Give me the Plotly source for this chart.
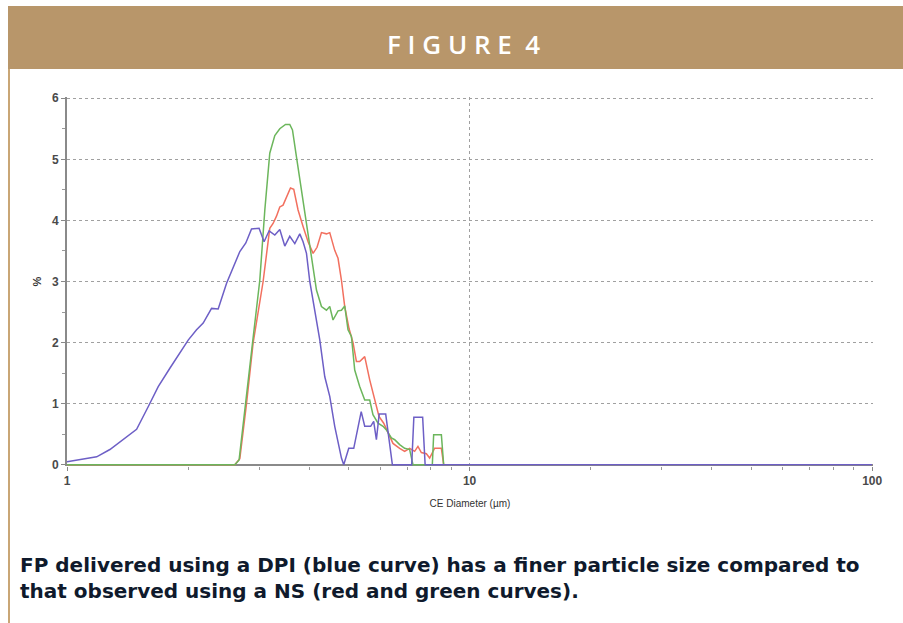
import plotly.graph_objects as go

# ---- data (CE diameter in µm, percentage) ----
blue_d = [1.0, 1.185, 1.278, 1.380, 1.489, 1.591, 1.685, 1.801, 2.000, 2.098, 2.179, 2.286, 2.374,
          2.491, 2.586, 2.687, 2.781, 2.873, 3.000, 3.087, 3.177, 3.282, 3.377, 3.475, 3.575, 3.680,
          3.786, 3.858, 3.934, 4.009, 4.244, 4.368, 4.494, 4.624, 4.805, 4.868, 5.010, 5.155, 5.380,
          5.489, 5.679, 5.778, 5.868, 5.962, 6.189, 6.430, 7.181, 7.270, 7.645, 7.755, 100.0]
blue_p = [0.05, 0.13, 0.25, 0.41, 0.58, 0.95, 1.28, 1.58, 2.04, 2.21, 2.32, 2.56, 2.55,
          2.97, 3.24, 3.49, 3.63, 3.86, 3.87, 3.65, 3.83, 3.76, 3.85, 3.58, 3.74, 3.62,
          3.78, 3.65, 3.46, 3.0, 2.05, 1.44, 1.12, 0.63, 0.11, 0.0, 0.27, 0.27, 0.87,
          0.63, 0.63, 0.71, 0.41, 0.83, 0.83, 0.0, 0.0, 0.78, 0.78, 0.0, 0.0]

green_d = [1.0, 2.611, 2.676, 2.781, 2.890, 3.012, 3.100, 3.189, 3.282, 3.377, 3.489, 3.575, 3.631,
           3.715, 3.823, 3.934, 4.048, 4.165, 4.286, 4.410, 4.494, 4.579, 4.712, 4.805, 4.896, 4.989,
           5.087, 5.184, 5.333, 5.489, 5.648, 5.754, 5.923, 6.096, 6.214, 6.394, 6.516, 6.703, 6.897,
           7.098, 7.233, 8.080, 8.142, 8.509, 8.622, 100.0]
green_p = [0.0, 0.0, 0.08, 1.0, 2.0, 3.02, 4.17, 5.1, 5.39, 5.5, 5.57, 5.57, 5.48,
           5.04, 4.5, 3.9, 3.35, 2.86, 2.59, 2.53, 2.59, 2.37, 2.52, 2.53, 2.6, 2.21,
           2.1, 1.55, 1.28, 1.06, 1.06, 0.82, 0.68, 0.63, 0.57, 0.44, 0.41, 0.33, 0.27,
           0.25, 0.0, 0.0, 0.49, 0.49, 0.0, 0.0]

red_d = [1.0, 2.611, 2.687, 2.792, 2.899, 3.070, 3.189, 3.250, 3.314, 3.377, 3.441, 3.509, 3.590,
         3.658, 3.749, 3.858, 3.970, 4.085, 4.179, 4.286, 4.410, 4.494, 4.624, 4.712, 4.805, 4.896,
         5.018, 5.134, 5.235, 5.333, 5.489, 5.648, 5.811, 5.956, 6.118, 6.270, 6.452, 6.703, 6.897,
         7.098, 7.303, 7.442, 7.588, 7.810, 7.957, 8.188, 8.509, 8.622, 100.0]
red_p = [0.0, 0.0, 0.1, 1.0, 1.99, 3.0, 3.87, 3.95, 4.07, 4.22, 4.25, 4.39, 4.53,
         4.51, 4.17, 3.9, 3.65, 3.46, 3.56, 3.8, 3.78, 3.8, 3.51, 3.38, 3.02, 2.59,
         2.23, 2.0, 1.69, 1.69, 1.77, 1.39, 1.06, 0.79, 0.68, 0.52, 0.35, 0.27, 0.22,
         0.27, 0.22, 0.3, 0.2, 0.18, 0.11, 0.27, 0.27, 0.0, 0.0]

x_ticks = [1, 10, 100]
x_minor = [2, 3, 4, 5, 6, 7, 8, 9, 20, 30, 40, 50, 60, 70, 80, 90]
y_ticks = [0, 1, 2, 3, 4, 5, 6]
y_minor = [0.5, 1.5, 2.5, 3.5, 4.5, 5.5]

title_text = "F I G U R E  4"
caption = ("FP delivered using a DPI (blue curve) has a finer particle size compared to<br>"
           "that observed using a NS (red and green curves).")

# ---- geometry helpers (pixel -> paper) ----
W, H = 903, 623
L, R, T, B = 67, 30, 97, 157
pw, ph = W - L - R, H - T - B


def px(x):
    return (x - L) / pw


def py(y):
    return (H - B - y) / ph


fig = go.Figure()
fig.add_trace(go.Scatter(x=red_d, y=red_p, mode="lines", line=dict(color="#f2705f", width=1.5),
                         showlegend=False, hoverinfo="skip"))
fig.add_trace(go.Scatter(x=green_d, y=green_p, mode="lines", line=dict(color="#6cb65c", width=1.5),
                         showlegend=False, hoverinfo="skip"))
fig.add_trace(go.Scatter(x=blue_d, y=blue_p, mode="lines", line=dict(color="#6d5fc6", width=1.5),
                         showlegend=False, hoverinfo="skip"))

tickfont = dict(family="Liberation Sans, Arial", size=12, color="#4a4a4a", weight="bold")

fig.update_layout(
    width=W, height=H,
    margin=dict(l=L, r=R, t=T, b=B, pad=0),
    paper_bgcolor="white", plot_bgcolor="white",
    xaxis=dict(
        type="log", range=[0, 2.002],
        tickvals=x_ticks, ticktext=[str(v) for v in x_ticks],
        ticks="outside", ticklen=4, tickcolor="#888", tickwidth=1,
        tickfont=tickfont,
        showgrid=True, gridcolor="#a0a0a0", griddash="dot", gridwidth=1,
        showline=False, zeroline=False,
        minor=dict(tickvals=x_minor, ticks="outside", ticklen=3, tickcolor="#999", showgrid=False),
        title=dict(text="CE Diameter (µm)", font=dict(family="Liberation Sans, Arial", size=10, color="#333"),
                   standoff=12),
    ),
    yaxis=dict(
        range=[-0.02, 6.02],
        tickvals=y_ticks, ticktext=[str(v) for v in y_ticks],
        ticks="outside", ticklen=4, tickcolor="#888", tickwidth=1,
        tickfont=tickfont,
        showgrid=True, gridcolor="#a0a0a0", griddash="dot", gridwidth=1,
        showline=True, linecolor="#8a8a8a", linewidth=2,
        zeroline=True, zerolinecolor="#8a8a8a", zerolinewidth=1.5,
        minor=dict(tickvals=y_minor, ticks="outside", ticklen=3, tickcolor="#999", showgrid=False),
        title=dict(text="%", font=dict(family="Liberation Sans, Arial", size=11, color="#333", weight="bold"),
                   standoff=8),
    ),
    shapes=[
        dict(type="rect", xref="paper", yref="paper", x0=px(8), x1=px(903), y0=py(69), y1=py(6),
             fillcolor="#b8966a", line=dict(width=0), layer="below"),
        dict(type="line", xref="paper", yref="paper", x0=px(9), x1=px(9), y0=py(69), y1=py(623),
             line=dict(color="#c9a676", width=2)),
    ],
    annotations=[
        dict(text=title_text, xref="paper", yref="paper", x=px(463), y=py(44), showarrow=False,
             xanchor="center", yanchor="middle",
             font=dict(family="Open Sans, Liberation Sans", size=26, color="white", weight=600)),
        dict(text=caption, xref="paper", yref="paper", x=px(18), y=py(578), showarrow=False,
             xanchor="left", yanchor="middle", align="left",
             font=dict(family="DejaVu Sans", size=20, color="#0f1a2c", weight="bold")),
    ],
)

fig.write_html("out.html")
